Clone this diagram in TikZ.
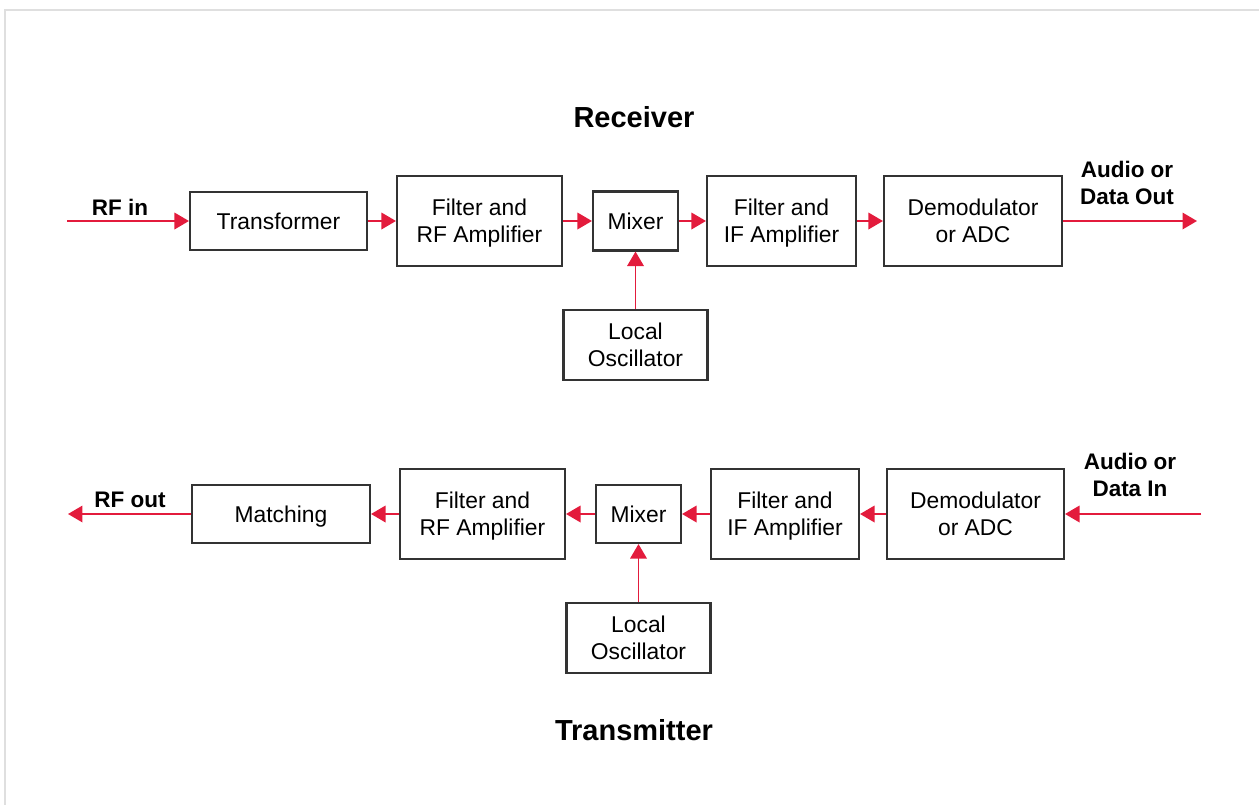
\documentclass[tikz,border=0pt]{standalone}
\usepackage{fontspec}
\setmainfont{Liberation Sans}
\usetikzlibrary{arrows.meta,positioning}
\definecolor{sigred}{HTML}{E31B3C}
\definecolor{boxgray}{HTML}{333333}
\tikzset{
  block/.style={draw=boxgray, line width=1.2pt, inner sep=0pt, align=center, text depth=0pt, font=\fontsize{13}{15.3}\selectfont},
  sig/.style={-{Triangle[length=2.9mm,width=3.3mm]}, sigred, line width=1.1pt},
  tag/.style={font=\fontsize{12.8}{15.3}\selectfont\bfseries, align=center, inner sep=0pt},
  title/.style={font=\fontsize{16.5}{19}\selectfont\bfseries, inner sep=0pt}
}

\begin{document}
\begin{tikzpicture}[x=0.02cm,y=-0.02cm]
  \useasboundingbox (0,0) rectangle (1259,805);
  \draw[gray!25, line width=0.85pt] (5,805)--(5,10)--(1259,10);
  % receiver
  \node[title] (rxtitle) at (634,117) {Receiver};
  \coordinate (rxin) at (67,221);
  \coordinate (rxout) at (1197,221);
  \node[block, minimum width=3.54cm, minimum height=1.16cm] (rxtr) at (278.5,221) {Transformer};
  \node[block, minimum width=3.3cm, minimum height=1.8cm] (rxrf) at (479.5,221) {Filter and\\RF Amplifier};
  \node[block, minimum width=1.7cm, minimum height=1.18cm] (rxmix) at (635.5,221) {Mixer};
  \node[block, minimum width=2.98cm, minimum height=1.8cm] (rxif) at (781.5,221) {Filter and\\IF Amplifier};
  \node[block, minimum width=3.56cm, minimum height=1.8cm] (rxdem) at (973,221) {Demodulator\\or ADC};
  \node[block, minimum width=2.88cm, minimum height=1.4cm] (rxlo) at (635.5,345) {Local\\Oscillator};
  \node[tag] (rxinlbl) at (120,207) {RF in};
  \node[tag] (rxoutlbl) at (1127,183) {Audio or\\Data Out};
  \draw[sig] (rxin) -- (rxtr);
  \draw[sig] (rxtr) -- (rxrf);
  \draw[sig] (rxrf) -- (rxmix);
  \draw[sig] (rxmix) -- (rxif);
  \draw[sig] (rxif) -- (rxdem);
  \draw[sig] (rxdem) -- (rxout);
  \draw[sig] (rxlo) -- (rxmix);
  % transmitter
  \node[title] (txtitle) at (634,730) {Transmitter};
  \coordinate (txin) at (1201,514);
  \coordinate (txout) at (68,514);
  \node[block, minimum width=3.56cm, minimum height=1.16cm] (txmat) at (281,514) {Matching};
  \node[block, minimum width=3.3cm, minimum height=1.8cm] (txrf) at (482.5,514) {Filter and\\RF Amplifier};
  \node[block, minimum width=1.7cm, minimum height=1.16cm] (txmix) at (638.5,514) {Mixer};
  \node[block, minimum width=2.96cm, minimum height=1.8cm] (txif) at (785,514) {Filter and\\IF Amplifier};
  \node[block, minimum width=3.54cm, minimum height=1.8cm] (txdem) at (975.5,514) {Demodulator\\or ADC};
  \node[block, minimum width=2.88cm, minimum height=1.4cm] (txlo) at (638.5,638) {Local\\Oscillator};
  \node[tag] (txinlbl) at (1130,475) {Audio or\\Data In};
  \node[tag] (txoutlbl) at (130,500) {RF out};
  \draw[sig] (txin) -- (txdem);
  \draw[sig] (txdem) -- (txif);
  \draw[sig] (txif) -- (txmix);
  \draw[sig] (txmix) -- (txrf);
  \draw[sig] (txrf) -- (txmat);
  \draw[sig] (txmat) -- (txout);
  \draw[sig] (txlo) -- (txmix);
\end{tikzpicture}
\end{document}
